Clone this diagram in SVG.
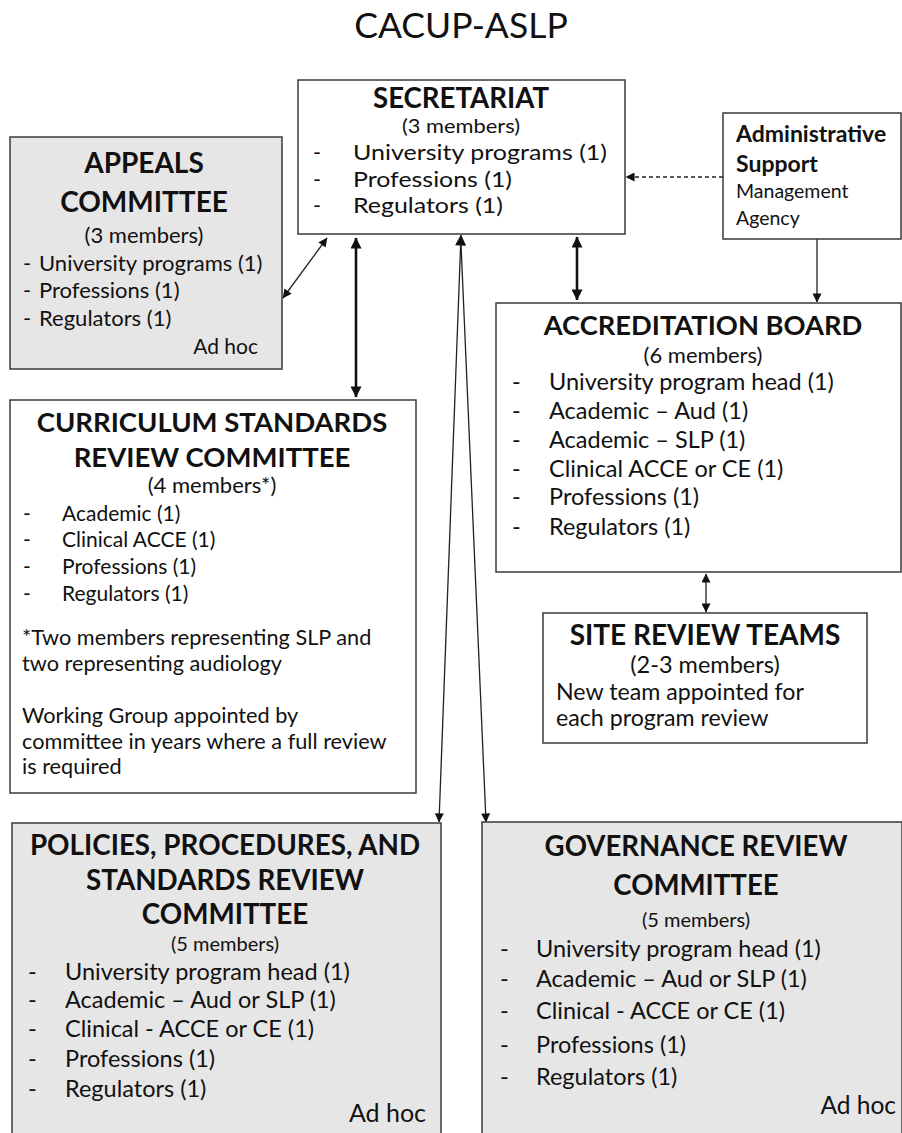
<svg xmlns="http://www.w3.org/2000/svg" width="902" height="1133" viewBox="0 0 902 1133">
<style>
text{font-family:Lato,"Open Sans","Liberation Sans",sans-serif;fill:#111}
.b{font-weight:bold}
.c{text-anchor:middle}
.e{text-anchor:end}
.box{stroke:#3a3a3a;stroke-width:1.5}
.w{fill:#fff}
.g{fill:#e7e6e6}
.ln{stroke:#222;fill:none;stroke-width:1.3}
.th{stroke:#111;fill:none;stroke-width:2.6}
.ds{stroke-dasharray:4 3}
</style>
<defs>
<marker id="ah" viewBox="0 0 10 10" refX="9.5" refY="5" markerWidth="10" markerHeight="9" markerUnits="userSpaceOnUse" orient="auto-start-reverse"><path d="M0,0 L10,5 L0,10 z" fill="#111"/></marker>
<marker id="ahb" viewBox="0 0 10 10" refX="9.5" refY="5" markerWidth="12" markerHeight="11" markerUnits="userSpaceOnUse" orient="auto-start-reverse"><path d="M0,0 L10,5 L0,10 z" fill="#111"/></marker>
</defs>
<rect width="902" height="1133" fill="#fff"/>
<text id="title" x="461" y="38" class="c" font-size="35.5">CACUP-ASLP</text>

<g id="connectors">
<line class="ln" x1="283" y1="298" x2="327" y2="238" marker-start="url(#ah)" marker-end="url(#ah)"/>
<line class="th" x1="356" y1="238" x2="356" y2="397" marker-start="url(#ahb)" marker-end="url(#ahb)"/>
<line class="th" x1="577" y1="237" x2="577" y2="300" marker-start="url(#ahb)" marker-end="url(#ahb)"/>
<line class="ln ds" x1="723" y1="177" x2="626" y2="177" marker-end="url(#ah)"/>
<line class="ln" x1="817" y1="239" x2="817" y2="302" marker-end="url(#ah)"/>
<line class="ln" x1="706" y1="574" x2="706" y2="612" marker-start="url(#ah)" marker-end="url(#ah)"/>
<line class="ln" x1="461" y1="235" x2="439" y2="822" marker-start="url(#ahb)" marker-end="url(#ah)"/>
<line class="ln" x1="461" y1="244" x2="486" y2="822" marker-end="url(#ah)"/>
</g>

<g id="appeals">
<rect class="box g" x="10" y="137" width="272" height="232"/>
<text x="144" y="173" class="b c" font-size="28">APPEALS</text>
<text x="144" y="212" class="b c" font-size="28">COMMITTEE</text>
<text x="144" y="243" class="c" font-size="22">(3 members)</text>
<text x="23" y="271" font-size="22">-</text><text x="39" y="271" font-size="22">University programs (1)</text>
<text x="23" y="298" font-size="22">-</text><text x="39" y="298" font-size="22">Professions (1)</text>
<text x="23" y="326" font-size="22">-</text><text x="39" y="326" font-size="22">Regulators (1)</text>
<text x="258" y="354" class="e" font-size="21">Ad hoc</text>
</g>

<g id="secretariat">
<rect class="box w" x="298" y="80" width="327" height="154"/>
<text x="461" y="108" class="b c" font-size="27.6">SECRETARIAT</text>
<text x="461" y="133" class="c" font-size="19" textLength="118" lengthAdjust="spacingAndGlyphs">(3 members)</text>
<text x="313" y="160" font-size="21.5">-</text><text x="353" y="160" font-size="21.5" textLength="254" lengthAdjust="spacingAndGlyphs">University programs (1)</text>
<text x="313" y="187" font-size="21.5">-</text><text x="353" y="187" font-size="21.5" textLength="159" lengthAdjust="spacingAndGlyphs">Professions (1)</text>
<text x="313" y="213" font-size="21.5">-</text><text x="353" y="213" font-size="21.5" textLength="150" lengthAdjust="spacingAndGlyphs">Regulators (1)</text>
</g>

<g id="admin">
<rect class="box w" x="723" y="113" width="178" height="126"/>
<text x="736" y="142" class="b" font-size="23">Administrative</text>
<text x="736" y="172" class="b" font-size="23">Support</text>
<text x="736" y="198" font-size="19.5">Management</text>
<text x="736" y="225" font-size="19.5">Agency</text>
</g>

<g id="accreditation">
<rect class="box w" x="496" y="303" width="405" height="269"/>
<text x="703" y="335" class="b c" font-size="27.3">ACCREDITATION BOARD</text>
<text x="703" y="363" class="c" font-size="22">(6 members)</text>
<text x="512" y="390" font-size="23.5">-</text><text x="549" y="390" font-size="23.5">University program head (1)</text>
<text x="512" y="419" font-size="23.5">-</text><text x="549" y="419" font-size="23.5">Academic – Aud (1)</text>
<text x="512" y="448" font-size="23.5">-</text><text x="549" y="448" font-size="23.5">Academic – SLP (1)</text>
<text x="512" y="477" font-size="23.5">-</text><text x="549" y="477" font-size="23.5">Clinical ACCE or CE (1)</text>
<text x="512" y="505" font-size="23.5">-</text><text x="549" y="505" font-size="23.5">Professions (1)</text>
<text x="512" y="535" font-size="23.5">-</text><text x="549" y="535" font-size="23.5">Regulators (1)</text>
</g>

<g id="site-review">
<rect class="box w" x="543" y="613" width="324" height="130"/>
<text x="705" y="645" class="b c" font-size="28">SITE REVIEW TEAMS</text>
<text x="705" y="673" class="c" font-size="23.5">(2-3 members)</text>
<text x="556" y="700" font-size="23.2">New team appointed for</text>
<text x="556" y="726" font-size="23.2">each program review</text>
</g>

<g id="curriculum">
<rect class="box w" x="10" y="400" width="406" height="393"/>
<text x="212" y="432" class="b c" font-size="27.5">CURRICULUM STANDARDS</text>
<text x="212" y="467" class="b c" font-size="27.5">REVIEW COMMITTEE</text>
<text x="212" y="493" class="c" font-size="22">(4 members*)</text>
<text x="23" y="521" font-size="21">-</text><text x="62" y="521" font-size="21">Academic (1)</text>
<text x="23" y="547" font-size="21">-</text><text x="62" y="547" font-size="21">Clinical ACCE (1)</text>
<text x="23" y="574" font-size="21">-</text><text x="62" y="574" font-size="21">Professions (1)</text>
<text x="23" y="601" font-size="21">-</text><text x="62" y="601" font-size="21">Regulators (1)</text>
<text x="22" y="645" font-size="21.7">*Two members representing SLP and</text>
<text x="22" y="671" font-size="21.7">two representing audiology</text>
<text x="22" y="723" font-size="21.7">Working Group appointed by</text>
<text x="22" y="749" font-size="21.7">committee in years where a full review</text>
<text x="22" y="774" font-size="21.7">is required</text>
</g>

<g id="policies">
<rect class="box g" x="12" y="823" width="429" height="330"/>
<text x="225" y="855" class="b c" font-size="27.8">POLICIES, PROCEDURES, AND</text>
<text x="225" y="890" class="b c" font-size="27.8">STANDARDS REVIEW</text>
<text x="225" y="924" class="b c" font-size="27.8">COMMITTEE</text>
<text x="225" y="951" class="c" font-size="20">(5 members)</text>
<text x="28" y="980" font-size="23.5">-</text><text x="65" y="980" font-size="23.5">University program head (1)</text>
<text x="28" y="1008" font-size="23.5">-</text><text x="65" y="1008" font-size="23.5">Academic – Aud or SLP (1)</text>
<text x="28" y="1037" font-size="23.5">-</text><text x="65" y="1037" font-size="23.5">Clinical - ACCE or CE (1)</text>
<text x="28" y="1067" font-size="23.5">-</text><text x="65" y="1067" font-size="23.5">Professions (1)</text>
<text x="28" y="1097" font-size="23.5">-</text><text x="65" y="1097" font-size="23.5">Regulators (1)</text>
<text x="426" y="1122" class="e" font-size="25">Ad hoc</text>
</g>

<g id="governance">
<rect class="box g" x="482" y="822" width="420" height="331"/>
<text x="696" y="856" class="b c" font-size="27.6">GOVERNANCE REVIEW</text>
<text x="696" y="895" class="b c" font-size="27.6">COMMITTEE</text>
<text x="696" y="927" class="c" font-size="20">(5 members)</text>
<text x="500" y="957" font-size="23.5">-</text><text x="536" y="957" font-size="23.5">University program head (1)</text>
<text x="500" y="987" font-size="23.5">-</text><text x="536" y="987" font-size="23.5">Academic – Aud or SLP (1)</text>
<text x="500" y="1019" font-size="23.5">-</text><text x="536" y="1019" font-size="23.5">Clinical - ACCE or CE (1)</text>
<text x="500" y="1053" font-size="23.5">-</text><text x="536" y="1053" font-size="23.5">Professions (1)</text>
<text x="500" y="1085" font-size="23.5">-</text><text x="536" y="1085" font-size="23.5">Regulators (1)</text>
<text x="896" y="1114" class="e" font-size="24.5">Ad hoc</text>
</g>
</svg>
